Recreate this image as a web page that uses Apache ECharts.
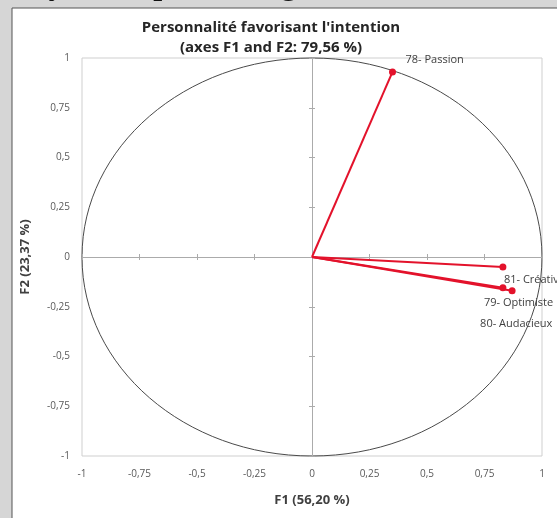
<!DOCTYPE html>
<html>
<head>
<meta charset="utf-8">
<script src="https://cdn.jsdelivr.net/npm/echarts@6/dist/echarts.min.js"></script>
<style>
html,body{margin:0;padding:0;background:#d6d6d6;}
#chart{width:557px;height:518px;}
</style>
</head>
<body>
<div id="chart"></div>
<script>
// ---- data ----
const variableLabels = ['78- Passion', '81- Créativité', '79- Optimiste', '80- Audacieux'];
const f1Values = [0.35, 0.83, 0.83, 0.87];
const f2Values = [0.93, -0.05, -0.155, -0.17];
const axisMin = -1;
const axisMax = 1;
const axisStep = 0.25;
const titleLines = ['Personnalité favorisant l\'intention', '(axes F1 and F2: 79,56 %)'];
const xAxisTitle = 'F1 (56,20 %)';
const yAxisTitle = 'F2 (23,37 %)';
const pageHeading = 'ality items promoting intention';

// ---- styles ----
const labelOffsets = [[13, -12], [1, 13], [-19, 15], [-32, 33]];
const red = '#e3122b';
const axisGray = '#ababab';
const fmt = v => String(v).replace('.', ',');

const chart = echarts.init(document.getElementById('chart'), null, {renderer: 'canvas'});

const vectorSeries = variableLabels.map((name, i) => ({
  type: 'line',
  name: name,
  z: 6,
  data: [
    {value: [0, 0], symbol: 'none', label: {show: false}},
    {value: [f1Values[i], f2Values[i]]}
  ],
  symbol: 'circle',
  symbolSize: 7,
  showAllSymbol: true,
  itemStyle: {color: red},
  lineStyle: {color: red, width: 2},
  clip: false,
  label: {
    show: true,
    position: 'inside',
    align: 'left',
    verticalAlign: 'middle',
    offset: labelOffsets[i],
    formatter: () => name,
    color: '#404040',
    fontSize: 11,
    fontFamily: 'Open Sans'
  },
  emphasis: {disabled: true},
  animation: false
}));

const commonAxis = {
  type: 'value',
  min: axisMin,
  max: axisMax,
  interval: axisStep,
  splitLine: {show: false},
  z: 4
};

function centerAxis(position, inside, showLine) {
  return Object.assign({}, commonAxis, {
    position: position,
    axisLine: {show: showLine, onZero: true, onZeroAxisIndex: 0, lineStyle: {color: axisGray, width: 1}},
    axisTick: {show: true, inside: inside, length: 3, lineStyle: {color: axisGray}},
    axisLabel: {show: false}
  });
}

chart.setOption({
  backgroundColor: '#d6d6d6',
  animation: false,
  graphic: [
    {
      type: 'text', left: 4, top: -30, z: -20,
      style: {text: pageHeading, font: 'bold 32px "Liberation Serif"', fill: '#111'}
    },
    {
      type: 'rect', z: -10,
      shape: {x: 12, y: 8, width: 560, height: 520},
      style: {fill: '#ffffff', stroke: '#555555', lineWidth: 1}
    }
  ],
  title: {
    text: titleLines.join('\n'),
    left: 266,
    textAlign: 'center',
    top: 13,
    textStyle: {
      fontFamily: 'Open Sans',
      fontWeight: 'bold',
      fontSize: 15,
      lineHeight: 20,
      color: '#262626'
    }
  },
  grid: {
    left: 82, right: 15, top: 58, bottom: 62,
    show: true, borderColor: '#cfcfcf', borderWidth: 1, backgroundColor: 'transparent',
    z: 2
  },
  xAxis: [
    Object.assign({}, commonAxis, {
      position: 'bottom',
      axisLine: {show: false, onZero: false},
      axisTick: {show: false},
      axisLabel: {formatter: fmt, color: '#595959', fontSize: 10, fontFamily: 'Open Sans', margin: 13},
      name: xAxisTitle,
      nameLocation: 'middle',
      nameGap: 38,
      nameTextStyle: {fontWeight: 'bold', fontSize: 13, fontFamily: 'Open Sans', color: '#404040'}
    }),
    centerAxis('bottom', true, true),
    centerAxis('top', true, false)
  ],
  yAxis: [
    Object.assign({}, commonAxis, {
      position: 'left',
      axisLine: {show: false, onZero: false},
      axisTick: {show: false},
      axisLabel: {formatter: fmt, color: '#595959', fontSize: 10, fontFamily: 'Open Sans', margin: 12},
      name: yAxisTitle,
      nameLocation: 'middle',
      nameRotate: 90,
      nameGap: 50,
      nameTextStyle: {fontWeight: 'bold', fontSize: 13, fontFamily: 'Open Sans', color: '#404040'}
    }),
    centerAxis('left', true, true),
    centerAxis('right', true, false)
  ],
  series: [
    {
      type: 'custom',
      z: 3,
      silent: true,
      clip: false,
      data: [[0, 0, 1]],
      renderItem: function (params, api) {
        const c = api.coord([api.value(0), api.value(1)]);
        const s = api.size([api.value(2), api.value(2)]);
        return {
          type: 'ellipse',
          shape: {cx: c[0], cy: c[1], rx: s[0], ry: s[1]},
          style: {fill: 'none', stroke: '#4a4a4a', lineWidth: 1}
        };
      }
    }
  ].concat(vectorSeries)
});
</script>
</body>
</html>
